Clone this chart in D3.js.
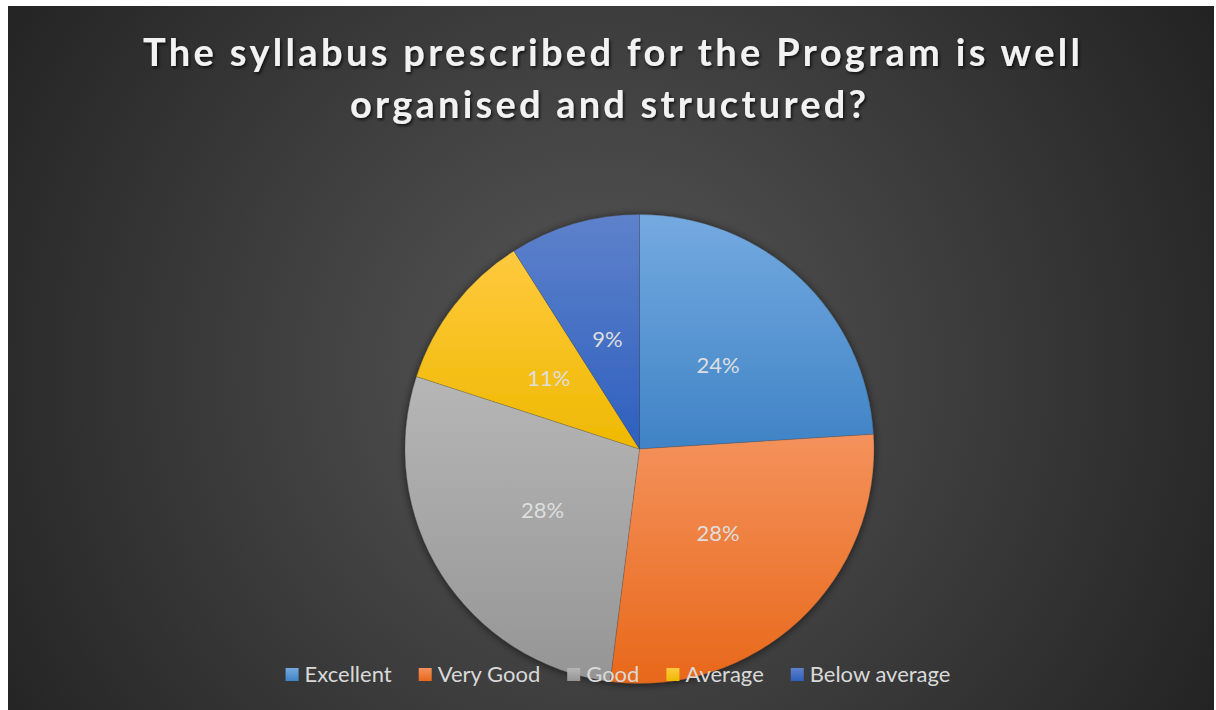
<!DOCTYPE html>
<html><head><meta charset="utf-8">
<script src="https://cdn.jsdelivr.net/npm/d3@7/dist/d3.min.js"></script>
<style>html,body{margin:0;padding:0;background:#fff;}svg{display:block;}</style>
</head><body>
<svg id="c" width="1216" height="710"></svg>
<script>
const categories = ["Excellent", "Very Good", "Good", "Average", "Below average"];
const values = [24, 28, 28, 11, 9];
const colorsTop = ["#74aae0", "#f4925c", "#b6b6b6", "#ffc93f", "#5e82cb"];
const colorsBottom = ["#3f83c6", "#e8681a", "#959595", "#eeb900", "#2e5fbe"];
const titleLines = ["The syllabus prescribed for the Program is well", "organised and structured?"];

const W = 1216, H = 710;
const svg = d3.select("#c");
const defs = svg.append("defs");

const bg = defs.append("radialGradient").attr("id", "bg")
  .attr("gradientUnits", "userSpaceOnUse").attr("cx", 600).attr("cy", 370).attr("r", 720);
bg.append("stop").attr("offset", "0").attr("stop-color", "#575757");
bg.append("stop").attr("offset", "1").attr("stop-color", "#222222");

categories.forEach((c, i) => {
  const g = defs.append("linearGradient").attr("id", "g" + i)
    .attr("x1", 0).attr("y1", 0).attr("x2", 0).attr("y2", 1);
  g.append("stop").attr("offset", "0").attr("stop-color", colorsTop[i]);
  g.append("stop").attr("offset", "1").attr("stop-color", colorsBottom[i]);
});

const sh = defs.append("filter").attr("id", "sh").attr("x", "-20%").attr("y", "-20%").attr("width", "140%").attr("height", "140%");
sh.append("feGaussianBlur").attr("in", "SourceAlpha").attr("stdDeviation", 4).attr("result", "b");
sh.append("feOffset").attr("in", "b").attr("dx", 0).attr("dy", 1).attr("result", "o");
sh.append("feComponentTransfer").attr("in", "o").attr("result", "o2")
  .append("feFuncA").attr("type", "linear").attr("slope", 0.6);
const m = sh.append("feMerge");
m.append("feMergeNode").attr("in", "o2");
m.append("feMergeNode").attr("in", "SourceGraphic");

const tsh = defs.append("filter").attr("id", "tsh").attr("x", "-5%").attr("y", "-30%").attr("width", "110%").attr("height", "160%");
tsh.append("feDropShadow").attr("dx", 1.5).attr("dy", 2).attr("stdDeviation", 1.5).attr("flood-color", "#000").attr("flood-opacity", 0.7);

// chart area
svg.append("rect").attr("x", 8).attr("y", 6).attr("width", W - 10).attr("height", H - 6).attr("fill", "url(#bg)");

// title
const titleG = svg.append("g").attr("filter", "url(#tsh)");
const titleSpec = [{y: 66, x1: 143, x2: 1080}, {y: 118, x1: 350, x2: 866}];
titleLines.forEach((t, i) => {
  const s = titleSpec[i];
  titleG.append("text").attr("x", (s.x1 + s.x2) / 2).attr("y", s.y)
    .attr("text-anchor", "middle")
    .attr("font-family", "Lato, 'Open Sans', sans-serif").attr("font-weight", 700)
    .attr("font-size", 38).attr("fill", "#f2f2f2")
    .attr("textLength", s.x2 - s.x1).attr("lengthAdjust", "spacing")
    .text(t);
});

// pie
const cx = 639.5, cy = 449, r = 234.5;
const pie = d3.pie().sort(null).value(d => d)(values);
const arc = d3.arc().innerRadius(0).outerRadius(r);
const labelArc = d3.arc().innerRadius(r * 0.49).outerRadius(r * 0.49);
const pg = svg.append("g").attr("transform", `translate(${cx},${cy})`);
pg.append("g").attr("filter", "url(#sh)")
  .selectAll("path").data(pie).join("path")
  .attr("d", arc).attr("fill", (d, i) => `url(#g${i})`)
  .attr("stroke", "rgba(60,60,60,0.35)").attr("stroke-width", 0.6);
pg.selectAll("text.lbl").data(pie).join("text").attr("class", "lbl")
  .attr("transform", d => `translate(${labelArc.centroid(d)})`)
  .attr("text-anchor", "middle").attr("dy", "0.36em")
  .attr("font-family", "Lato, sans-serif").attr("font-size", 22)
  .attr("fill", "#dedede")
  .text(d => d.data + "%");

// legend
const lg = svg.append("g");
const items = lg.selectAll("g").data(categories).join("g");
items.append("rect").attr("width", 13).attr("height", 13).attr("y", -14)
  .attr("fill", (d, i) => `url(#g${i})`);
items.append("text").attr("x", 19).attr("y", 0)
  .attr("font-family", "Lato, sans-serif").attr("font-size", 22).attr("fill", "#d9d9d9")
  .text(d => d);
let x = 0; const gap = 27; const positions = [];
items.each(function() {
  const tw = d3.select(this).select("text").node().getComputedTextLength();
  positions.push(x);
  x += 19 + tw + gap;
});
const total = x - gap;
const startX = 618 - total / 2;
items.attr("transform", (d, i) => `translate(${startX + positions[i]},${682})`);
</script>
</body></html>
